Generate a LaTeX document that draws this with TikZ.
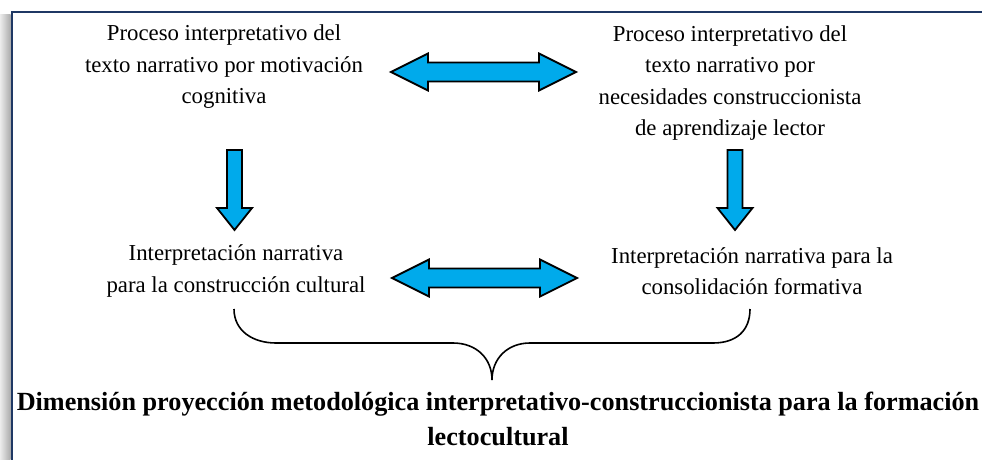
\documentclass[tikz,border=0pt]{standalone}
\usepackage{fontspec}
\setmainfont{Liberation Serif}
\usetikzlibrary{positioning,calc}
\definecolor{framenavy}{RGB}{31,56,100}
\definecolor{arrowblue}{RGB}{0,170,235}

\begin{document}
\begin{tikzpicture}[x=1pt,y=-1pt,
	txt/.style={align=center,inner sep=0pt,font=\fontsize{22.8}{31.5}\selectfont},
	fatline/.style={draw=black,line width=1.8pt,fill=arrowblue,line join=miter},
	dblarrow/.style={fatline,to path={
		-- ($(\tikztostart)!37pt!(\tikztotarget)!18.5pt!90:(\tikztotarget)$)
		-- ($(\tikztostart)!37pt!(\tikztotarget)!9.5pt!90:(\tikztotarget)$)
		-- ($(\tikztotarget)!37pt!(\tikztostart)!9.5pt!-90:(\tikztostart)$)
		-- ($(\tikztotarget)!37pt!(\tikztostart)!18.5pt!-90:(\tikztostart)$)
		-- (\tikztotarget)
		-- ($(\tikztotarget)!37pt!(\tikztostart)!18.5pt!90:(\tikztostart)$)
		-- ($(\tikztotarget)!37pt!(\tikztostart)!9.5pt!90:(\tikztostart)$)
		-- ($(\tikztostart)!37pt!(\tikztotarget)!9.5pt!-90:(\tikztotarget)$)
		-- ($(\tikztostart)!37pt!(\tikztotarget)!18.5pt!-90:(\tikztotarget)$)
		-- cycle}},
	downarrow/.style={fatline,to path={
		($(\tikztostart)!7.5pt!90:(\tikztotarget)$)
		-- ($(\tikztotarget)!22pt!(\tikztostart)!7.5pt!-90:(\tikztostart)$)
		-- ($(\tikztotarget)!22pt!(\tikztostart)!17.5pt!-90:(\tikztostart)$)
		-- (\tikztotarget)
		-- ($(\tikztotarget)!22pt!(\tikztostart)!17.5pt!90:(\tikztostart)$)
		-- ($(\tikztotarget)!22pt!(\tikztostart)!7.5pt!90:(\tikztostart)$)
		-- ($(\tikztostart)!7.5pt!-90:(\tikztotarget)$)
		-- cycle}}]
	\useasboundingbox (0,0) rectangle (982,460);
	\shade[left color=gray!15,right color=gray!65] (0,15) rectangle (10.5,460);
	\draw[framenavy,line width=2.5pt] (12,460) -- (12,12) -- (982,12);
	\node[txt] (procmot) at (224,67) {Proceso interpretativo del\\texto narrativo por motivación\\cognitiva};
	\node[txt] (procnec) at (730,83) {Proceso interpretativo del\\texto narrativo por\\necesidades construccionista\\de aprendizaje lector};
	\node[txt] (intcult) at (236,271) {Interpretación narrativa\\para la construcción cultural};
	\node[txt] (intcons) at (752,271) {Interpretación narrativa para la\\consolidación formativa};
	\node[txt,font=\bfseries\fontsize{26.2}{35}\selectfont] (dimproy) at (498,419) {Dimensión proyección metodológica interpretativo-construccionista para la formación\\lectocultural};
	\coordinate (topL) at (391,72);
	\coordinate (topR) at (576,72);
	\coordinate (midL) at (392,278);
	\coordinate (midR) at (577,278);
	\coordinate (leftTop) at (234.5,150);
	\coordinate (leftBot) at (234.5,230);
	\coordinate (rightTop) at (735,150);
	\coordinate (rightBot) at (735,230);
	\draw[dblarrow] (topL) to (topR);
	\draw[dblarrow] (midL) to (midR);
	\draw[downarrow] (leftTop) to (leftBot);
	\draw[downarrow] (rightTop) to (rightBot);
	\draw[line width=1.6pt] (234,309) .. controls (234,331) and (253,343) .. (276,343) -- (453,343)
		.. controls (476,343) and (492,358) .. (492,380)
		.. controls (492,358) and (508,343) .. (530,343) -- (713,343)
		.. controls (736,343) and (750,331) .. (750,309);
\end{tikzpicture}
\end{document}
